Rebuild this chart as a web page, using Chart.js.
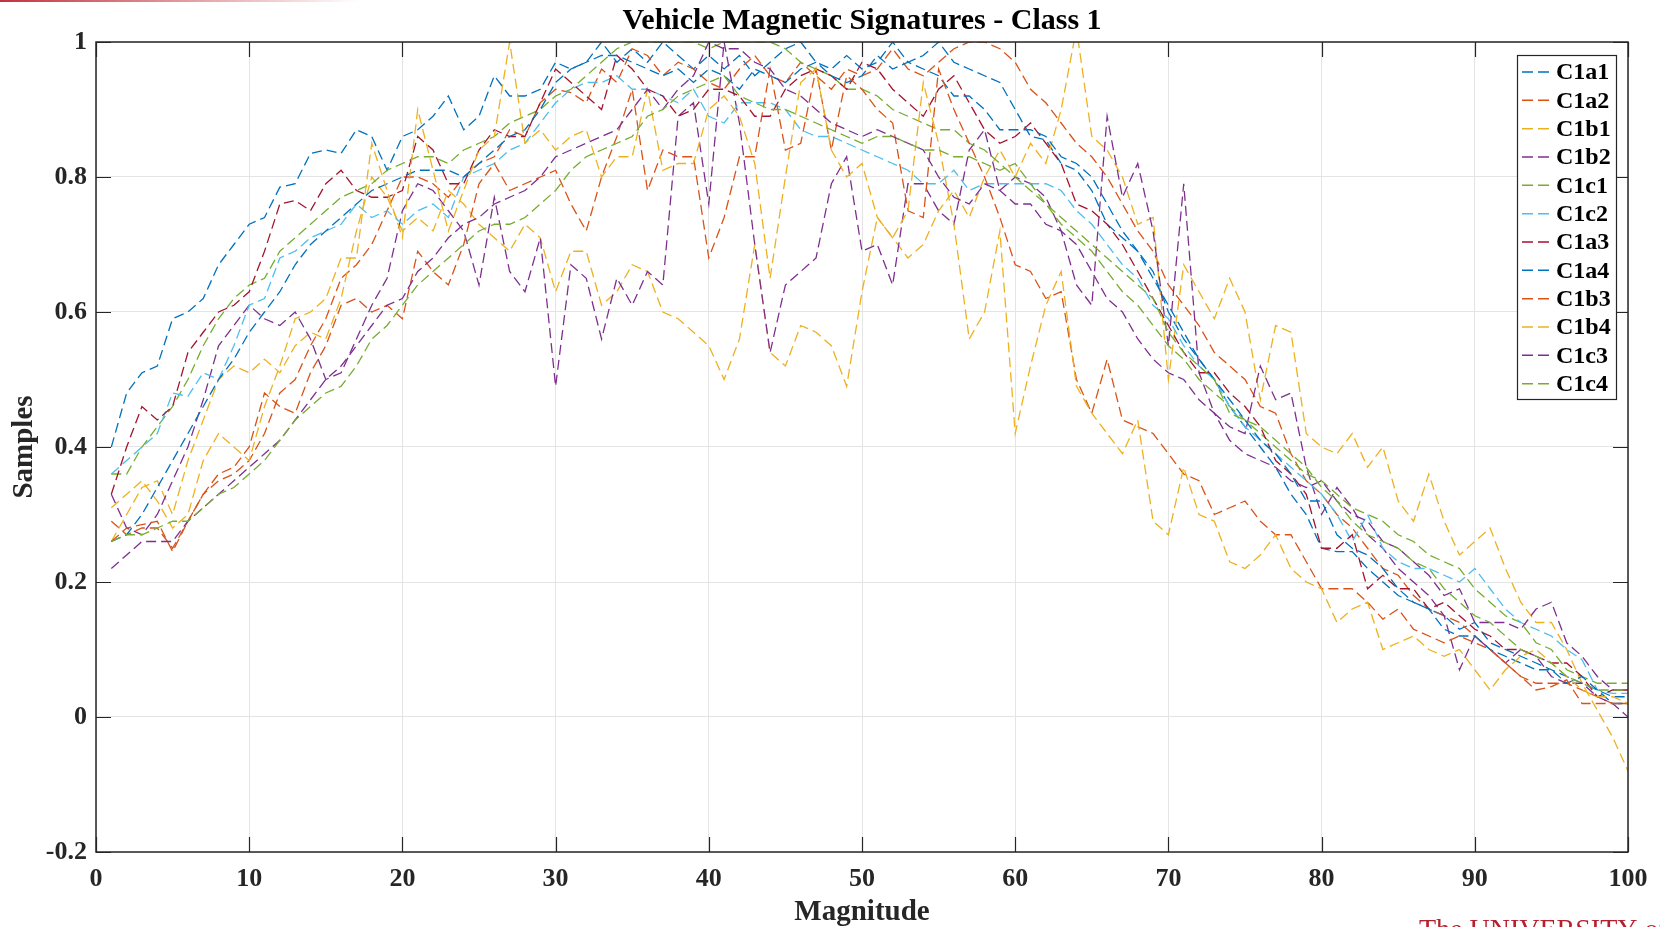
<!DOCTYPE html>
<html>
<head>
<meta charset="utf-8">
<script src="https://cdn.jsdelivr.net/npm/chart.js@4.4.0/dist/chart.umd.min.js"></script>
<style>
html,body{margin:0;padding:0;background:#fff;}
canvas{display:block;}
</style>
</head>
<body>
<canvas id="c" width="1660" height="927" style="width:1660px;height:927px"></canvas>
<script>
// ---------- DATA ----------
const chartTitle = 'Vehicle Magnetic Signatures - Class 1';
const magnitude = [1,2,3,4,5,6,7,8,9,10,11,12,13,14,15,16,17,18,19,20,21,22,23,24,25,26,27,28,29,30,31,32,33,34,35,36,37,38,39,40,41,42,43,44,45,46,47,48,49,50,51,52,53,54,55,56,57,58,59,60,61,62,63,64,65,66,67,68,69,70,71,72,73,74,75,76,77,78,79,80,81,82,83,84,85,86,87,88,89,90,91,92,93,94,95,96,97,98,99,100];
const xTicks = [0,10,20,30,40,50,60,70,80,90,100];
const yTicks = [-0.2,0,0.2,0.4,0.6,0.8,1];
const yTickLabels = ['-0.2','0','0.2','0.4','0.6','0.8','1'];
const seriesNames = ['C1a1','C1a2','C1b1','C1b2','C1c1','C1c2','C1a3','C1a4','C1b3','C1b4','C1c3','C1c4'];
const seriesColors = ['#0072BD','#D95319','#EDB120','#7E2F8E','#77AC30','#4DBEEE','#A2142F','#0072BD','#D95319','#EDB120','#7E2F8E','#77AC30'];

const C1a1 = [0.40,0.48,0.51,0.52,0.59,0.60,0.62,0.67,0.70,0.73,
 0.74,0.785,0.79,0.835,0.84,0.835,0.87,0.86,0.81,0.86,
 0.87,0.89,0.92,0.87,0.89,0.95,0.92,0.92,0.93,0.97,
 0.96,0.97,1.0,0.97,0.99,0.97,1.0,0.98,0.96,0.98,
 0.96,0.98,0.95,0.97,0.99,1.0,0.97,0.96,0.98,0.96,
 0.97,1.0,0.97,0.98,1.0,0.97,0.96,0.95,0.94,0.90,
 0.86,0.855,0.82,0.81,0.78,0.73,0.71,0.69,0.66,0.60,
 0.56,0.53,0.50,0.46,0.43,0.40,0.37,0.33,0.30,0.25,
 0.245,0.245,0.22,0.20,0.18,0.17,0.16,0.15,0.13,0.14,
 0.11,0.10,0.09,0.08,0.07,0.06,0.05,0.04,0.03,0.03];
const C1a2 = [0.29,0.27,0.28,0.28,0.25,0.29,0.33,0.35,0.36,0.38,
 0.42,0.48,0.50,0.55,0.59,0.65,0.67,0.70,0.75,0.80,
 0.80,0.79,0.77,0.80,0.82,0.83,0.87,0.86,0.91,0.93,
 0.925,0.91,0.96,0.94,0.99,0.98,0.95,0.97,0.96,0.94,
 0.93,0.96,0.98,0.95,0.94,0.97,0.95,0.93,0.96,0.95,
 0.96,0.99,0.96,0.95,0.97,0.99,1.0,1.0,0.99,0.97,
 0.93,0.91,0.88,0.85,0.83,0.80,0.76,0.72,0.69,0.64,
 0.61,0.58,0.54,0.52,0.50,0.46,0.45,0.39,0.35,0.33,
 0.30,0.28,0.25,0.22,0.21,0.18,0.16,0.15,0.14,0.12,
 0.10,0.08,0.06,0.05,0.05,0.05,0.04,0.03,0.02,0.02];
const C1b1 = [0.26,0.30,0.34,0.35,0.30,0.38,0.44,0.50,0.52,0.51,
 0.53,0.51,0.55,0.57,0.56,0.62,0.72,0.80,0.77,0.72,
 0.74,0.72,0.78,0.76,0.73,0.71,0.69,0.73,0.71,0.63,
 0.69,0.69,0.61,0.63,0.67,0.66,0.60,0.59,0.57,0.55,
 0.50,0.56,0.70,0.54,0.52,0.58,0.57,0.55,0.49,0.63,
 0.74,0.71,0.68,0.70,0.75,0.78,0.74,0.80,0.84,0.80,
 0.85,0.82,0.90,1.02,0.86,0.84,0.80,0.73,0.74,0.50,
 0.67,0.63,0.59,0.65,0.60,0.47,0.58,0.57,0.42,0.40,
 0.39,0.42,0.37,0.40,0.32,0.29,0.36,0.29,0.24,0.26,
 0.28,0.22,0.17,0.14,0.14,0.10,0.05,0.01,-0.03,-0.08];
const C1b2 = [0.33,0.28,0.27,0.30,0.35,0.40,0.47,0.55,0.58,0.61,
 0.59,0.58,0.60,0.56,0.50,0.51,0.56,0.61,0.65,0.75,
 0.79,0.78,0.75,0.72,0.64,0.77,0.66,0.63,0.71,0.49,
 0.67,0.65,0.56,0.65,0.61,0.66,0.64,0.89,0.91,0.76,
 1.0,0.88,0.70,0.54,0.64,0.66,0.68,0.79,0.83,0.69,
 0.70,0.64,0.79,0.79,0.75,0.73,0.84,0.87,0.78,0.80,
 0.79,0.77,0.72,0.64,0.61,0.89,0.77,0.82,0.72,0.55,
 0.79,0.51,0.45,0.43,0.42,0.52,0.47,0.48,0.37,0.30,
 0.34,0.31,0.27,0.25,0.22,0.20,0.18,0.15,0.07,0.12,
 0.10,0.08,0.10,0.09,0.06,0.05,0.05,0.03,0.02,0.00];
const C1c1 = [0.36,0.36,0.40,0.43,0.46,0.50,0.55,0.59,0.62,0.64,
 0.65,0.69,0.71,0.73,0.75,0.77,0.78,0.79,0.81,0.82,
 0.83,0.83,0.82,0.84,0.85,0.86,0.88,0.89,0.90,0.92,
 0.93,0.95,0.97,0.99,1.0,1.0,1.0,1.0,1.0,0.99,
 1.0,1.0,1.0,1.0,0.99,0.97,0.96,0.95,0.93,0.93,
 0.92,0.90,0.89,0.88,0.87,0.87,0.85,0.84,0.82,0.80,
 0.78,0.76,0.73,0.71,0.69,0.66,0.63,0.61,0.58,0.55,
 0.53,0.50,0.48,0.46,0.44,0.42,0.40,0.38,0.36,0.35,
 0.33,0.31,0.30,0.29,0.27,0.26,0.24,0.23,0.22,0.19,
 0.17,0.15,0.14,0.11,0.10,0.07,0.06,0.05,0.05,0.05];
const C1c2 = [0.36,0.38,0.40,0.42,0.48,0.475,0.51,0.50,0.55,0.61,
 0.62,0.68,0.69,0.71,0.72,0.73,0.76,0.74,0.75,0.73,
 0.75,0.76,0.74,0.80,0.81,0.82,0.84,0.85,0.88,0.91,
 0.93,0.94,0.94,0.95,0.93,0.93,0.92,0.91,0.93,0.89,
 0.88,0.91,0.91,0.91,0.90,0.87,0.86,0.86,0.85,0.84,
 0.83,0.82,0.81,0.79,0.79,0.81,0.78,0.79,0.79,0.79,
 0.79,0.79,0.78,0.75,0.73,0.70,0.67,0.65,0.61,0.59,
 0.55,0.52,0.50,0.46,0.43,0.41,0.39,0.37,0.35,0.33,
 0.30,0.26,0.30,0.25,0.23,0.22,0.22,0.21,0.20,0.22,
 0.19,0.16,0.14,0.13,0.12,0.10,0.085,0.04,0.035,0.035];
const C1a3 = [0.33,0.40,0.46,0.44,0.46,0.54,0.57,0.60,0.61,0.63,
 0.69,0.76,0.765,0.75,0.79,0.81,0.78,0.77,0.77,0.78,
 0.86,0.84,0.79,0.79,0.84,0.87,0.86,0.86,0.91,0.96,
 0.94,0.92,0.90,0.98,0.96,0.93,0.92,0.89,0.90,0.93,
 0.93,0.92,0.89,0.89,0.93,0.95,0.96,0.95,0.93,0.97,
 0.96,0.93,0.91,0.89,0.93,0.95,0.91,0.87,0.85,0.86,
 0.88,0.85,0.82,0.76,0.75,0.73,0.70,0.66,0.62,0.58,
 0.54,0.51,0.51,0.48,0.46,0.43,0.38,0.36,0.33,0.25,
 0.25,0.27,0.19,0.21,0.19,0.19,0.16,0.17,0.15,0.13,
 0.12,0.10,0.10,0.09,0.08,0.08,0.06,0.03,0.04,0.04];
const C1a4 = [0.26,0.27,0.30,0.34,0.38,0.42,0.46,0.50,0.53,0.57,
 0.60,0.63,0.67,0.70,0.72,0.74,0.76,0.78,0.79,0.80,
 0.81,0.81,0.81,0.80,0.82,0.84,0.86,0.87,0.90,0.94,
 0.96,0.97,0.98,0.98,0.97,0.96,0.95,0.96,0.94,0.96,
 0.95,0.93,0.96,0.95,0.94,0.96,0.97,0.95,0.94,0.95,
 0.98,0.96,0.97,0.96,0.95,0.92,0.92,0.90,0.87,0.87,
 0.87,0.86,0.83,0.82,0.80,0.76,0.72,0.69,0.65,0.61,
 0.57,0.53,0.50,0.47,0.44,0.41,0.39,0.36,0.32,0.32,
 0.27,0.25,0.24,0.22,0.19,0.17,0.16,0.13,0.12,0.12,
 0.10,0.09,0.08,0.07,0.07,0.05,0.06,0.04,0.02,0.02];
const C1b3 = [0.26,0.28,0.285,0.29,0.245,0.29,0.33,0.36,0.37,0.40,
 0.48,0.46,0.45,0.51,0.55,0.61,0.62,0.60,0.61,0.59,
 0.69,0.66,0.64,0.70,0.79,0.82,0.78,0.79,0.80,0.81,
 0.76,0.72,0.80,0.86,0.93,0.78,0.84,0.83,0.83,0.68,
 0.74,0.83,0.83,0.96,0.84,0.85,0.96,0.84,0.95,0.93,
 0.90,0.88,0.75,0.74,0.96,0.90,0.85,0.80,0.74,0.67,
 0.66,0.62,0.63,0.50,0.45,0.53,0.44,0.43,0.42,0.39,
 0.36,0.35,0.30,0.31,0.32,0.29,0.27,0.27,0.23,0.19,
 0.19,0.19,0.17,0.145,0.16,0.13,0.12,0.11,0.12,0.11,
 0.10,0.08,0.06,0.04,0.045,0.055,0.02,0.02,0.02,0.02];
const C1b4 = [0.31,0.33,0.35,0.32,0.28,0.30,0.38,0.42,0.40,0.38,
 0.46,0.52,0.59,0.60,0.62,0.68,0.68,0.85,0.78,0.71,
 0.90,0.81,0.72,0.78,0.84,0.86,1.0,0.85,0.87,0.84,
 0.86,0.87,0.80,0.83,0.83,0.93,0.81,0.82,0.82,0.90,
 0.92,0.89,0.82,0.65,0.80,0.94,0.96,0.84,0.80,0.82,
 0.74,0.71,0.75,0.94,0.85,0.73,0.56,0.60,0.72,0.42,
 0.52,0.61,0.66,0.49,0.45,0.42,0.39,0.44,0.29,0.27,
 0.37,0.30,0.29,0.23,0.22,0.24,0.27,0.22,0.20,0.19,
 0.14,0.16,0.17,0.10,0.11,0.12,0.10,0.09,0.10,0.07,
 0.04,0.07,0.09,0.10,0.08,0.06,0.04,0.03,0.03,0.02];
const C1c3 = [0.22,0.24,0.26,0.26,0.26,0.29,0.31,0.33,0.35,0.37,
 0.39,0.41,0.44,0.47,0.50,0.52,0.55,0.58,0.61,0.62,
 0.66,0.68,0.71,0.73,0.74,0.76,0.77,0.78,0.80,0.83,
 0.84,0.85,0.86,0.87,0.90,0.93,0.90,0.93,0.95,1.0,
 0.99,0.99,0.97,0.96,0.93,0.92,0.90,0.88,0.87,0.86,
 0.87,0.86,0.85,0.84,0.80,0.77,0.76,0.79,0.78,0.76,
 0.76,0.73,0.72,0.70,0.66,0.62,0.60,0.56,0.53,0.51,
 0.50,0.47,0.45,0.41,0.39,0.38,0.37,0.35,0.34,0.35,
 0.32,0.30,0.29,0.26,0.25,0.23,0.21,0.18,0.19,0.14,
 0.14,0.14,0.13,0.16,0.17,0.11,0.09,0.06,0.04,0.04];
const C1c4 = [0.26,0.27,0.27,0.28,0.29,0.29,0.31,0.33,0.34,0.36,
 0.38,0.41,0.44,0.46,0.48,0.49,0.52,0.56,0.58,0.61,
 0.64,0.66,0.68,0.70,0.72,0.73,0.73,0.74,0.76,0.78,
 0.81,0.83,0.84,0.85,0.86,0.89,0.90,0.92,0.93,0.94,
 0.95,0.92,0.91,0.90,0.90,0.89,0.88,0.87,0.86,0.85,
 0.86,0.86,0.85,0.84,0.84,0.83,0.83,0.82,0.81,0.82,
 0.79,0.76,0.74,0.72,0.70,0.68,0.66,0.64,0.62,0.57,
 0.54,0.52,0.50,0.45,0.44,0.43,0.41,0.39,0.37,0.34,
 0.32,0.29,0.27,0.26,0.25,0.23,0.22,0.19,0.17,0.15,
 0.14,0.12,0.10,0.09,0.08,0.06,0.05,0.04,0.04,0.04];

const seriesValues = [C1a1,C1a2,C1b1,C1b2,C1c1,C1c2,C1a3,C1a4,C1b3,C1b4,C1c3,C1c4];

// ---------- CHART ----------
const SERIF = '"Liberation Serif","Times New Roman",serif';
const AX = '#262626';

const datasets = seriesNames.map((name, i) => ({
  label: name,
  data: seriesValues[i].map((v, k) => ({x: magnitude[k], y: v})),
  borderColor: seriesColors[i],
  backgroundColor: seriesColors[i],
  borderWidth: 1.3,
  borderDash: [10, 5],
  pointRadius: 0,
  tension: 0,
  fill: false,
  order: seriesNames.length - i
}));

const decor = {
  id: 'decor',
  afterDraw(chart) {
    const {ctx, chartArea: a, scales: {x, y}} = chart;
    ctx.save();
    // title centred over the plot area
    ctx.fillStyle = '#000';
    ctx.font = 'bold 30px ' + SERIF;
    ctx.textAlign = 'center';
    ctx.textBaseline = 'alphabetic';
    ctx.fillText(chartTitle, (a.left + a.right) / 2, a.top - 13);

    // axes box
    ctx.setLineDash([]);
    ctx.strokeStyle = AX;
    ctx.lineWidth = 1.5;
    ctx.strokeRect(a.left, a.top, a.right - a.left, a.bottom - a.top);
    // inward ticks on all four sides
    ctx.lineWidth = 1.2;
    ctx.beginPath();
    x.ticks.forEach(t => {
      const px = Math.round(x.getPixelForValue(t.value)) + 0.5;
      ctx.moveTo(px, a.bottom); ctx.lineTo(px, a.bottom - 15);
      ctx.moveTo(px, a.top); ctx.lineTo(px, a.top + 15);
    });
    y.ticks.forEach(t => {
      const py = Math.round(y.getPixelForValue(t.value)) + 0.5;
      ctx.moveTo(a.left, py); ctx.lineTo(a.left + 15, py);
      ctx.moveTo(a.right, py); ctx.lineTo(a.right - 15, py);
    });
    ctx.stroke();

    // legend (inside, top-right)
    const lx = a.right - 111, ly = a.top + 13, lw = 99, lh = 344;
    ctx.fillStyle = '#fff';
    ctx.fillRect(lx, ly, lw, lh);
    ctx.strokeStyle = AX;
    ctx.lineWidth = 1.2;
    ctx.strokeRect(lx + 0.5, ly + 0.5, lw, lh);
    ctx.font = 'bold 24px ' + SERIF;
    ctx.textBaseline = 'middle';
    ctx.textAlign = 'left';
    chart.data.datasets.forEach((ds, i) => {
      const cy = ly + 17 + i * 28.33;
      ctx.setLineDash([11, 5]);
      ctx.strokeStyle = ds.borderColor;
      ctx.lineWidth = 1.5;
      ctx.beginPath();
      ctx.moveTo(lx + 5, cy); ctx.lineTo(lx + 32, cy);
      ctx.stroke();
      ctx.setLineDash([]);
      ctx.fillStyle = '#000';
      ctx.fillText(ds.label, lx + 39, cy + 1);
    });

    // slide remnants: red gradient rule top-left, cut-off footer text bottom-right
    const g = ctx.createLinearGradient(0, 0, 360, 0);
    g.addColorStop(0, 'rgba(192,40,50,0.95)');
    g.addColorStop(1, 'rgba(192,40,50,0)');
    ctx.fillStyle = g;
    ctx.fillRect(0, 0, 360, 2);
    ctx.fillStyle = '#b5202e';
    ctx.font = '28px ' + SERIF;
    ctx.textBaseline = 'alphabetic';
    ctx.fillText('The UNIVERSITY of', 1419, 938);
    ctx.restore();
  }
};

new Chart(document.getElementById('c'), {
  type: 'line',
  data: { datasets },
  plugins: [decor],
  options: {
    responsive: false,
    devicePixelRatio: 1,
    animation: false,
    events: [],
    layout: { padding: { left: 0, right: 32, top: 42, bottom: 0 } },
    plugins: {
      legend: { display: false },
      tooltip: { enabled: false },
      title: { display: false }
    },
    scales: {
      x: {
        type: 'linear',
        min: 0, max: 100,
        afterBuildTicks: s => { s.ticks = xTicks.map(v => ({ value: v })); },
        afterFit: s => { s.height = 75; },
        grid: { color: '#e4e4e4', lineWidth: 1, drawTicks: false },
        border: { display: false },
        ticks: {
          color: AX, padding: 12,
          font: { family: SERIF, size: 26, weight: 'bold', lineHeight: 1.2 },
          maxRotation: 0, autoSkip: false
        },
        title: {
          display: true, text: 'Magnitude', color: AX,
          font: { family: SERIF, size: 29, weight: 'bold', lineHeight: 1.0 },
          padding: { top: 0, bottom: 0 }
        }
      },
      y: {
        type: 'linear',
        min: -0.2, max: 1,
        afterBuildTicks: s => { s.ticks = yTicks.map(v => ({ value: v })); },
        afterFit: s => { s.width = 96; },
        grid: { color: '#e4e4e4', lineWidth: 1, drawTicks: false },
        border: { display: false },
        ticks: {
          color: AX, padding: 9,
          font: { family: SERIF, size: 26, weight: 'bold', lineHeight: 1.2 },
          callback: (v, i) => yTickLabels[i]
        },
        title: {
          display: true, text: 'Samples', color: AX,
          font: { family: SERIF, size: 29, weight: 'bold', lineHeight: 1.2 },
          padding: { top: 7, bottom: 0 }
        }
      }
    }
  }
});
</script>
</body>
</html>
